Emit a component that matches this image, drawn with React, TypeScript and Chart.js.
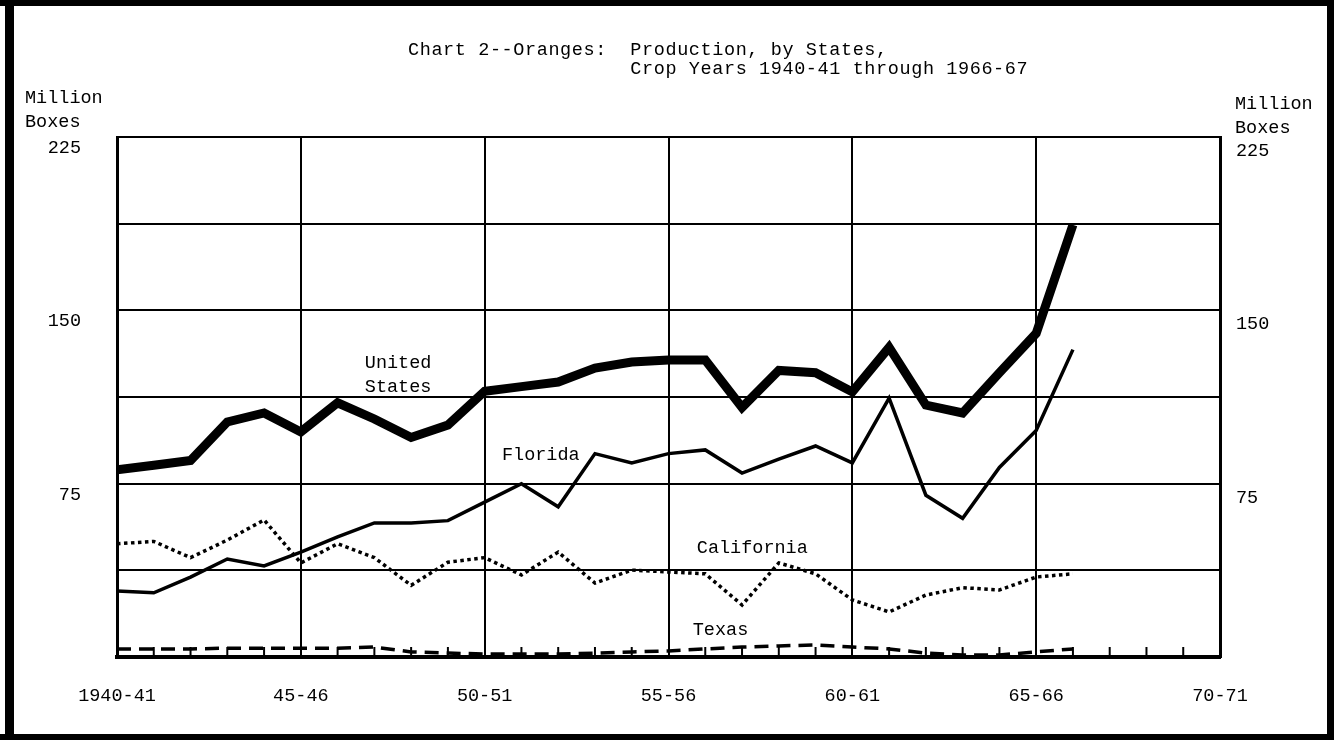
import React, { useEffect, useRef } from 'react';
import { Chart, registerables } from 'chart.js';

Chart.register(...registerables);

// Crop years (x index 0 = 1940-41)
const seasons = [
  '1940-41', '1941-42', '1942-43', '1943-44', '1944-45', '1945-46', '1946-47',
  '1947-48', '1948-49', '1949-50', '1950-51', '1951-52', '1952-53', '1953-54',
  '1954-55', '1955-56', '1956-57', '1957-58', '1958-59', '1959-60', '1960-61',
  '1961-62', '1962-63', '1963-64', '1964-65', '1965-66', '1966-67',
];

// Million boxes
const usProduction = [
  81, 83, 85, 101.7, 105.6, 97.4, 110, 103, 95, 100.4, 115, 117, 119, 125,
  127.6, 128.5, 128.5, 108, 124, 123, 114.7, 134, 109, 105.6, 123, 140, 187,
];
const floridaProduction = [
  28.6, 27.8, 34.6, 42.4, 39.4, 45.4, 52, 58, 58, 59, 67, 75, 65, 88,
  84, 88, 89.6, 79.6, 85.6, 91.3, 84, 112, 70, 60, 82, 98, 133,
];
const californiaProduction = [
  49, 50, 43, 50.6, 59.3, 40.7, 49, 43, 31, 41, 43, 35.5, 45.4, 32,
  37.6, 36.8, 36, 22.5, 40.7, 36, 24.7, 19.5, 26.8, 30, 29, 34.6, 36,
];
const texasProduction = [
  3.5, 3.5, 3.5, 3.8, 3.8, 3.8, 3.8, 4.3, 2.2, 1.7, 1.3, 1.3, 1.3, 1.7,
  2.2, 2.6, 3.5, 4.3, 4.8, 5.2, 4.3, 3.5, 1.7, 0.9, 0.9, 2.2, 3.5,
];

const xTickLabels = ['1940-41', '45-46', '50-51', '55-56', '60-61', '65-66', '70-71'];
const xTickStep = 5;
const yGridValues = [0, 37.5, 75, 112.5, 150, 187.5, 225];
const yTickLabelValues = [75, 150, 225];

const titleLines = [
  'Chart 2--Oranges:  Production, by States,',
  '                   Crop Years 1940-41 through 1966-67',
];
const axisUnitLines = ['Million', 'Boxes'];

// In-chart series labels, placed in data coordinates
const seriesNotes = [
  { text: 'United', x: 6.74, y: 127.2 },
  { text: 'States', x: 6.74, y: 116.8 },
  { text: 'Florida', x: 10.47, y: 87.4 },
  { text: 'California', x: 15.77, y: 47.2 },
  { text: 'Texas', x: 15.66, y: 11.7 },
];

const FONT = '"Liberation Mono", "DejaVu Sans Mono", monospace';

export default function App() {
  const ref = useRef<HTMLCanvasElement>(null);

  useEffect(() => {
    const canvas = ref.current;
    if (!canvas) return;
    const toPoints = (vals: number[]) => vals.map((v, i) => ({ x: i, y: v }));

    const decor = {
      id: 'decor',
      afterDraw(chart: any) {
        const ctx = chart.ctx;
        const xs = chart.scales.x;
        const ys = chart.scales.y;
        const area = chart.chartArea;
        ctx.save();
        // minor year ticks rising from the bottom axis
        ctx.strokeStyle = '#000';
        ctx.lineWidth = 2;
        for (let i = 1; i < 30; i++) {
          if (i % xTickStep === 0) continue;
          const px = xs.getPixelForValue(i);
          ctx.beginPath();
          ctx.moveTo(px, area.bottom);
          ctx.lineTo(px, area.bottom - 10);
          ctx.stroke();
        }
        ctx.fillStyle = '#000';
        ctx.font = `18.5px ${FONT}`;
        ctx.textBaseline = 'middle';
        ctx.textAlign = 'left';
        // title
        ctx.save();
        (ctx as any).letterSpacing = '0.6px';
        ctx.fillText(titleLines[0], 408, 50);
        ctx.fillText(titleLines[1], 408, 69);
        ctx.restore();
        // unit labels
        ctx.fillText(axisUnitLines[0], 25, 98);
        ctx.fillText(axisUnitLines[1], 25, 122);
        ctx.fillText(axisUnitLines[0], 1235, 104);
        ctx.fillText(axisUnitLines[1], 1235, 128);
        // series labels
        seriesNotes.forEach((n) => {
          ctx.fillText(n.text, xs.getPixelForValue(n.x), ys.getPixelForValue(n.y));
        });
        // outer frame
        ctx.fillRect(0, 0, 1334, 6);
        ctx.fillRect(5, 0, 9, 740);
        ctx.fillRect(1327, 0, 7, 740);
        ctx.fillRect(0, 734, 1334, 6);
        ctx.restore();
      },
    };

    const yTickCallback = (v: any) => (yTickLabelValues.includes(Number(v)) ? String(v) : '');

    const chart = new Chart(canvas, {
      type: 'line',
      data: {
        datasets: [
          {
            label: 'California',
            data: toPoints(californiaProduction),
            borderColor: '#000',
            borderWidth: 3.5,
            borderDash: [3.5, 3.5],
            pointRadius: 0,
            tension: 0,
          },
          {
            label: 'Texas',
            data: toPoints(texasProduction),
            borderColor: '#000',
            borderWidth: 3.5,
            borderDash: [14, 8],
            pointRadius: 0,
            tension: 0,
          },
          {
            label: 'Florida',
            data: toPoints(floridaProduction),
            borderColor: '#000',
            borderWidth: 3.5,
            pointRadius: 0,
            tension: 0,
            borderJoinStyle: 'miter',
          },
          {
            label: 'United States',
            data: toPoints(usProduction),
            borderColor: '#000',
            borderWidth: 9,
            pointRadius: 0,
            tension: 0,
            borderJoinStyle: 'miter',
          },
        ],
      } as any,
      options: {
        responsive: false,
        devicePixelRatio: 1,
        animation: false,
        events: [],
        layout: { padding: { top: 137, left: 0, right: 0, bottom: 0 } },
        plugins: { legend: { display: false }, tooltip: { enabled: false }, title: { display: false } },
        scales: {
          x: {
            type: 'linear',
            min: 0,
            max: 30,
            afterBuildTicks: (s: any) => {
              s.ticks = xTickLabels.map((_, k) => ({ value: k * xTickStep }));
            },
            ticks: {
              callback: (v: any) => xTickLabels[Math.round(Number(v) / xTickStep)] ?? '',
              font: { family: FONT, size: 18.5 },
              color: '#000',
              padding: 28,
              maxRotation: 0,
              autoSkip: false,
            },
            grid: { color: '#000', lineWidth: 2, drawTicks: false },
            border: { color: '#000', width: 4 },
            afterFit: (s: any) => {
              s.height = 83;
            },
          },
          y: {
            type: 'linear',
            position: 'left',
            min: 0,
            max: 225,
            afterBuildTicks: (s: any) => {
              s.ticks = yGridValues.map((v) => ({ value: v }));
            },
            ticks: {
              callback: yTickCallback,
              font: { family: FONT, size: 18.5 },
              color: '#000',
              padding: 36,
              labelOffset: 11,
              autoSkip: false,
            },
            grid: { color: '#000', lineWidth: 2, drawTicks: false },
            border: { color: '#000', width: 3 },
            afterFit: (s: any) => {
              s.width = 117;
            },
          },
          y2: {
            type: 'linear',
            position: 'right',
            min: 0,
            max: 225,
            afterBuildTicks: (s: any) => {
              s.ticks = yGridValues.map((v) => ({ value: v }));
            },
            ticks: {
              callback: yTickCallback,
              font: { family: FONT, size: 18.5 },
              color: '#000',
              padding: 16,
              labelOffset: 14,
              autoSkip: false,
            },
            grid: { display: false, drawTicks: false },
            border: { color: '#000', width: 3 },
            afterFit: (s: any) => {
              s.width = 114;
            },
          },
        },
      } as any,
      plugins: [decor],
    });

    return () => chart.destroy();
  }, []);

  return (
    <div style={{ position: 'fixed', left: 0, top: 0, width: 1334, height: 740, background: '#fff' }}>
      <canvas ref={ref} width={1334} height={740} style={{ display: 'block', width: 1334, height: 740 }} />
    </div>
  );
}
